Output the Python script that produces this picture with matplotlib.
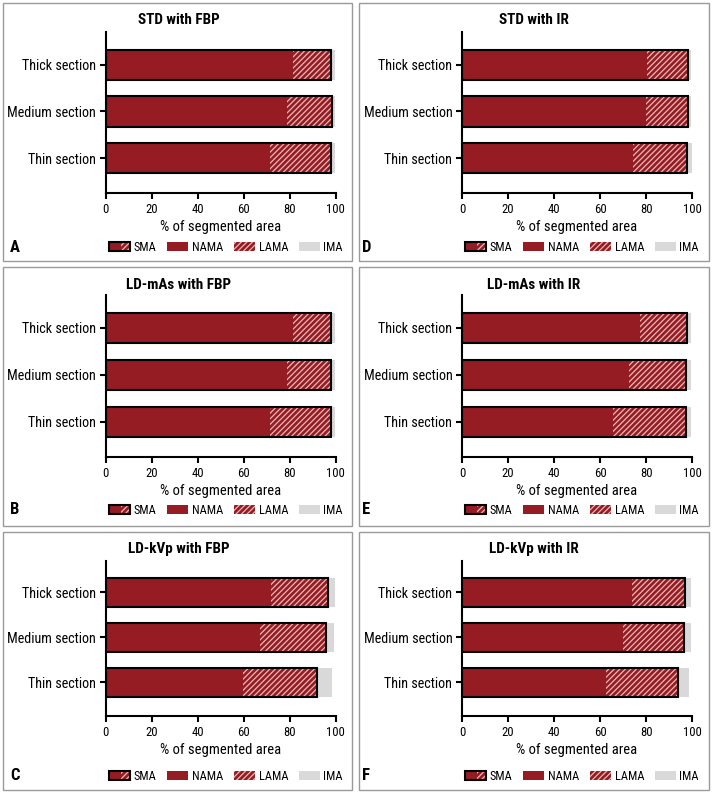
import matplotlib
matplotlib.use("Agg")
import matplotlib.pyplot as plt
from matplotlib import font_manager
from matplotlib.patches import Rectangle
from matplotlib.legend_handler import HandlerBase
import numpy as np

# pick a narrow sans if one is installed
entries = font_manager.fontManager.ttflist
names = {f.name for f in entries}
family = 'DejaVu Sans'
for cand in ['Liberation Sans Narrow', 'Roboto Condensed', 'Lato', 'Roboto']:
    if cand in names:
        family = cand
        break
plt.rcParams['font.family'] = [family, 'DejaVu Sans']
plt.rcParams['hatch.linewidth'] = 0.9

# Data (percent of segmented area), order: Thin, Medium, Thick
sections = ['Thin section', 'Medium section', 'Thick section']
titles = ['STD with FBP', 'LD-mAs with FBP', 'LD-kVp with FBP',
          'STD with IR', 'LD-mAs with IR', 'LD-kVp with IR']
letters = ['A', 'B', 'C', 'D', 'E', 'F']

sma = [[0.3, 0.3, 0.3], [0.3, 0.3, 0.3], [0.3, 0.3, 0.3],
       [0.3, 0.3, 0.3], [0.8, 0.8, 0.8], [0.3, 0.3, 0.3]]
nama_end = [[71.4, 79.0, 81.6], [71.4, 79.0, 81.6], [59.9, 67.2, 71.7],
            [74.3, 80.1, 80.3], [65.5, 72.6, 77.2], [62.6, 69.8, 73.7]]
lama_end = [[97.8, 98.2, 97.8], [97.8, 97.8, 97.8], [91.7, 95.6, 96.7],
            [97.8, 98.1, 98.1], [97.2, 97.5, 97.7], [93.9, 96.4, 96.8]]
ima_end = [[99.5, 99.5, 99.7], [99.5, 99.5, 99.7], [98.3, 99.3, 99.7],
           [100.0, 99.7, 99.7], [99.7, 99.7, 99.7], [98.8, 99.6, 99.6]]

RED = '#951c23'
HATCH = '#eab8b8'
GRAY = '#d9d9d9'

W, H = 713, 794
fig = plt.figure(figsize=(W / 100, H / 100), dpi=100)
renderer = fig.canvas.get_renderer()


def fit_size(text, target_px, bold=False, grow=1.08):
    # font size that makes `text` about target_px wide (a bit larger for height)
    t = fig.text(0, 0, text, fontsize=10, fontweight='bold' if bold else 'normal')
    w = t.get_window_extent(renderer).width
    t.remove()
    return 10 * target_px / w * grow


fs_ytick = fit_size('Medium section', 82)
fs_xtick = fit_size('100', 17)
fs_xlabel = fit_size('% of segmented area', 111)
fs_title = fit_size('LD-mAs with FBP', 97, bold=True)
fs_leg = fit_size('NAMA', 31, grow=1.0)
fs_letter = fs_title * 1.1


def fx(px):
    return px / W

def fy(py):
    return 1 - py / H

# panel layout in pixels
col_x = [(3, 352, 105.7, 335.7, 179, 10, 343), (359, 709, 462, 692, 534, 362, 699)]
row_y = [(3, 261, 32, 193, 20, 247), (267, 526, 295, 457, 285, 510), (532, 790, 561, 716, 549, 776)]


class SMAHandler(HandlerBase):
    def create_artists(self, legend, orig_handle, xdescent, ydescent,
                       width, height, fontsize, trans):
        base = Rectangle((-xdescent, -ydescent), width, height, facecolor=RED,
                         linewidth=0, transform=trans)
        hat = Rectangle((-xdescent + width * 0.55, -ydescent), width * 0.45, height,
                        facecolor=RED, edgecolor=HATCH, hatch='//////',
                        linewidth=0, transform=trans)
        edge = Rectangle((-xdescent, -ydescent), width, height, fill=False,
                         edgecolor='black', linewidth=1.5, transform=trans)
        return [base, hat, edge]


leg_px = fs_leg * 100 / 72

for i in range(6):
    c, r = i // 3, i % 3
    bx0, bx1, ax0, ax1, tx, lx, leg_right = col_x[c]
    by0, by1, ay0, ay1, ty, ly = row_y[r]

    fig.add_artist(Rectangle((fx(bx0), fy(by1)), fx(bx1 - bx0), (by1 - by0) / H,
                             transform=fig.transFigure, fill=False,
                             edgecolor='#9a9a9a', linewidth=1.0))

    ax = fig.add_axes([fx(ax0), fy(ay1), fx(ax1 - ax0), (ay1 - ay0) / H])
    y = np.arange(3)
    s = np.array(sma[i])
    n = np.array(nama_end[i])
    l = np.array(lama_end[i])
    m = np.array(ima_end[i])
    h = 0.65

    ax.barh(y, m - l, left=l, height=h, color=GRAY, linewidth=0)
    ax.barh(y, s, left=0, height=h, color=RED, linewidth=0)
    ax.barh(y, n - s, left=s, height=h, color=RED, linewidth=0)
    ax.barh(y, l - n, left=n, height=h, facecolor=RED, edgecolor=HATCH,
            hatch='//////', linewidth=0)
    ax.barh(y, l, left=0, height=h, fill=False, edgecolor='black', linewidth=1.5)

    ax.set_xlim(0, 100)
    ax.set_ylim(-0.75, 2.7)
    ax.set_xticks([0, 20, 40, 60, 80, 100])
    ax.set_yticks(y)
    ax.set_yticklabels(sections)
    ax.tick_params(axis='both', width=1.5, length=4, color='black', pad=3)
    ax.tick_params(axis='y', labelsize=fs_ytick)
    ax.tick_params(axis='x', labelsize=fs_xtick)
    for sp in ['top', 'right']:
        ax.spines[sp].set_visible(False)
    for sp in ['left', 'bottom']:
        ax.spines[sp].set_linewidth(1.5)
    ax.set_xlabel('% of segmented area', fontsize=fs_xlabel, labelpad=3)

    fig.text(fx(tx), fy(ty), titles[i], ha='center', va='center',
             fontsize=fs_title, fontweight='bold')
    fig.text(fx(lx), fy(ly), letters[i], ha='left', va='center',
             fontsize=fs_letter, fontweight='bold')

    h_sma = Rectangle((0, 0), 1, 1)
    h_nama = Rectangle((0, 0), 1, 1, facecolor=RED, linewidth=0)
    h_lama = Rectangle((0, 0), 1, 1, facecolor=RED, edgecolor=HATCH, hatch='//////', linewidth=0)
    h_ima = Rectangle((0, 0), 1, 1, facecolor=GRAY, linewidth=0)
    fig.legend([h_sma, h_nama, h_lama, h_ima], ['SMA', 'NAMA', 'LAMA', 'IMA'],
               handler_map={h_sma: SMAHandler()},
               loc='center right', bbox_to_anchor=(fx(leg_right), fy(ly)),
               bbox_transform=fig.transFigure, ncol=4, frameon=False,
               fontsize=fs_leg, borderpad=0, handlelength=21 / leg_px,
               handleheight=9 / leg_px, handletextpad=3.5 / leg_px,
               columnspacing=11 / leg_px, borderaxespad=0)

fig.savefig('out.png', dpi=100)
